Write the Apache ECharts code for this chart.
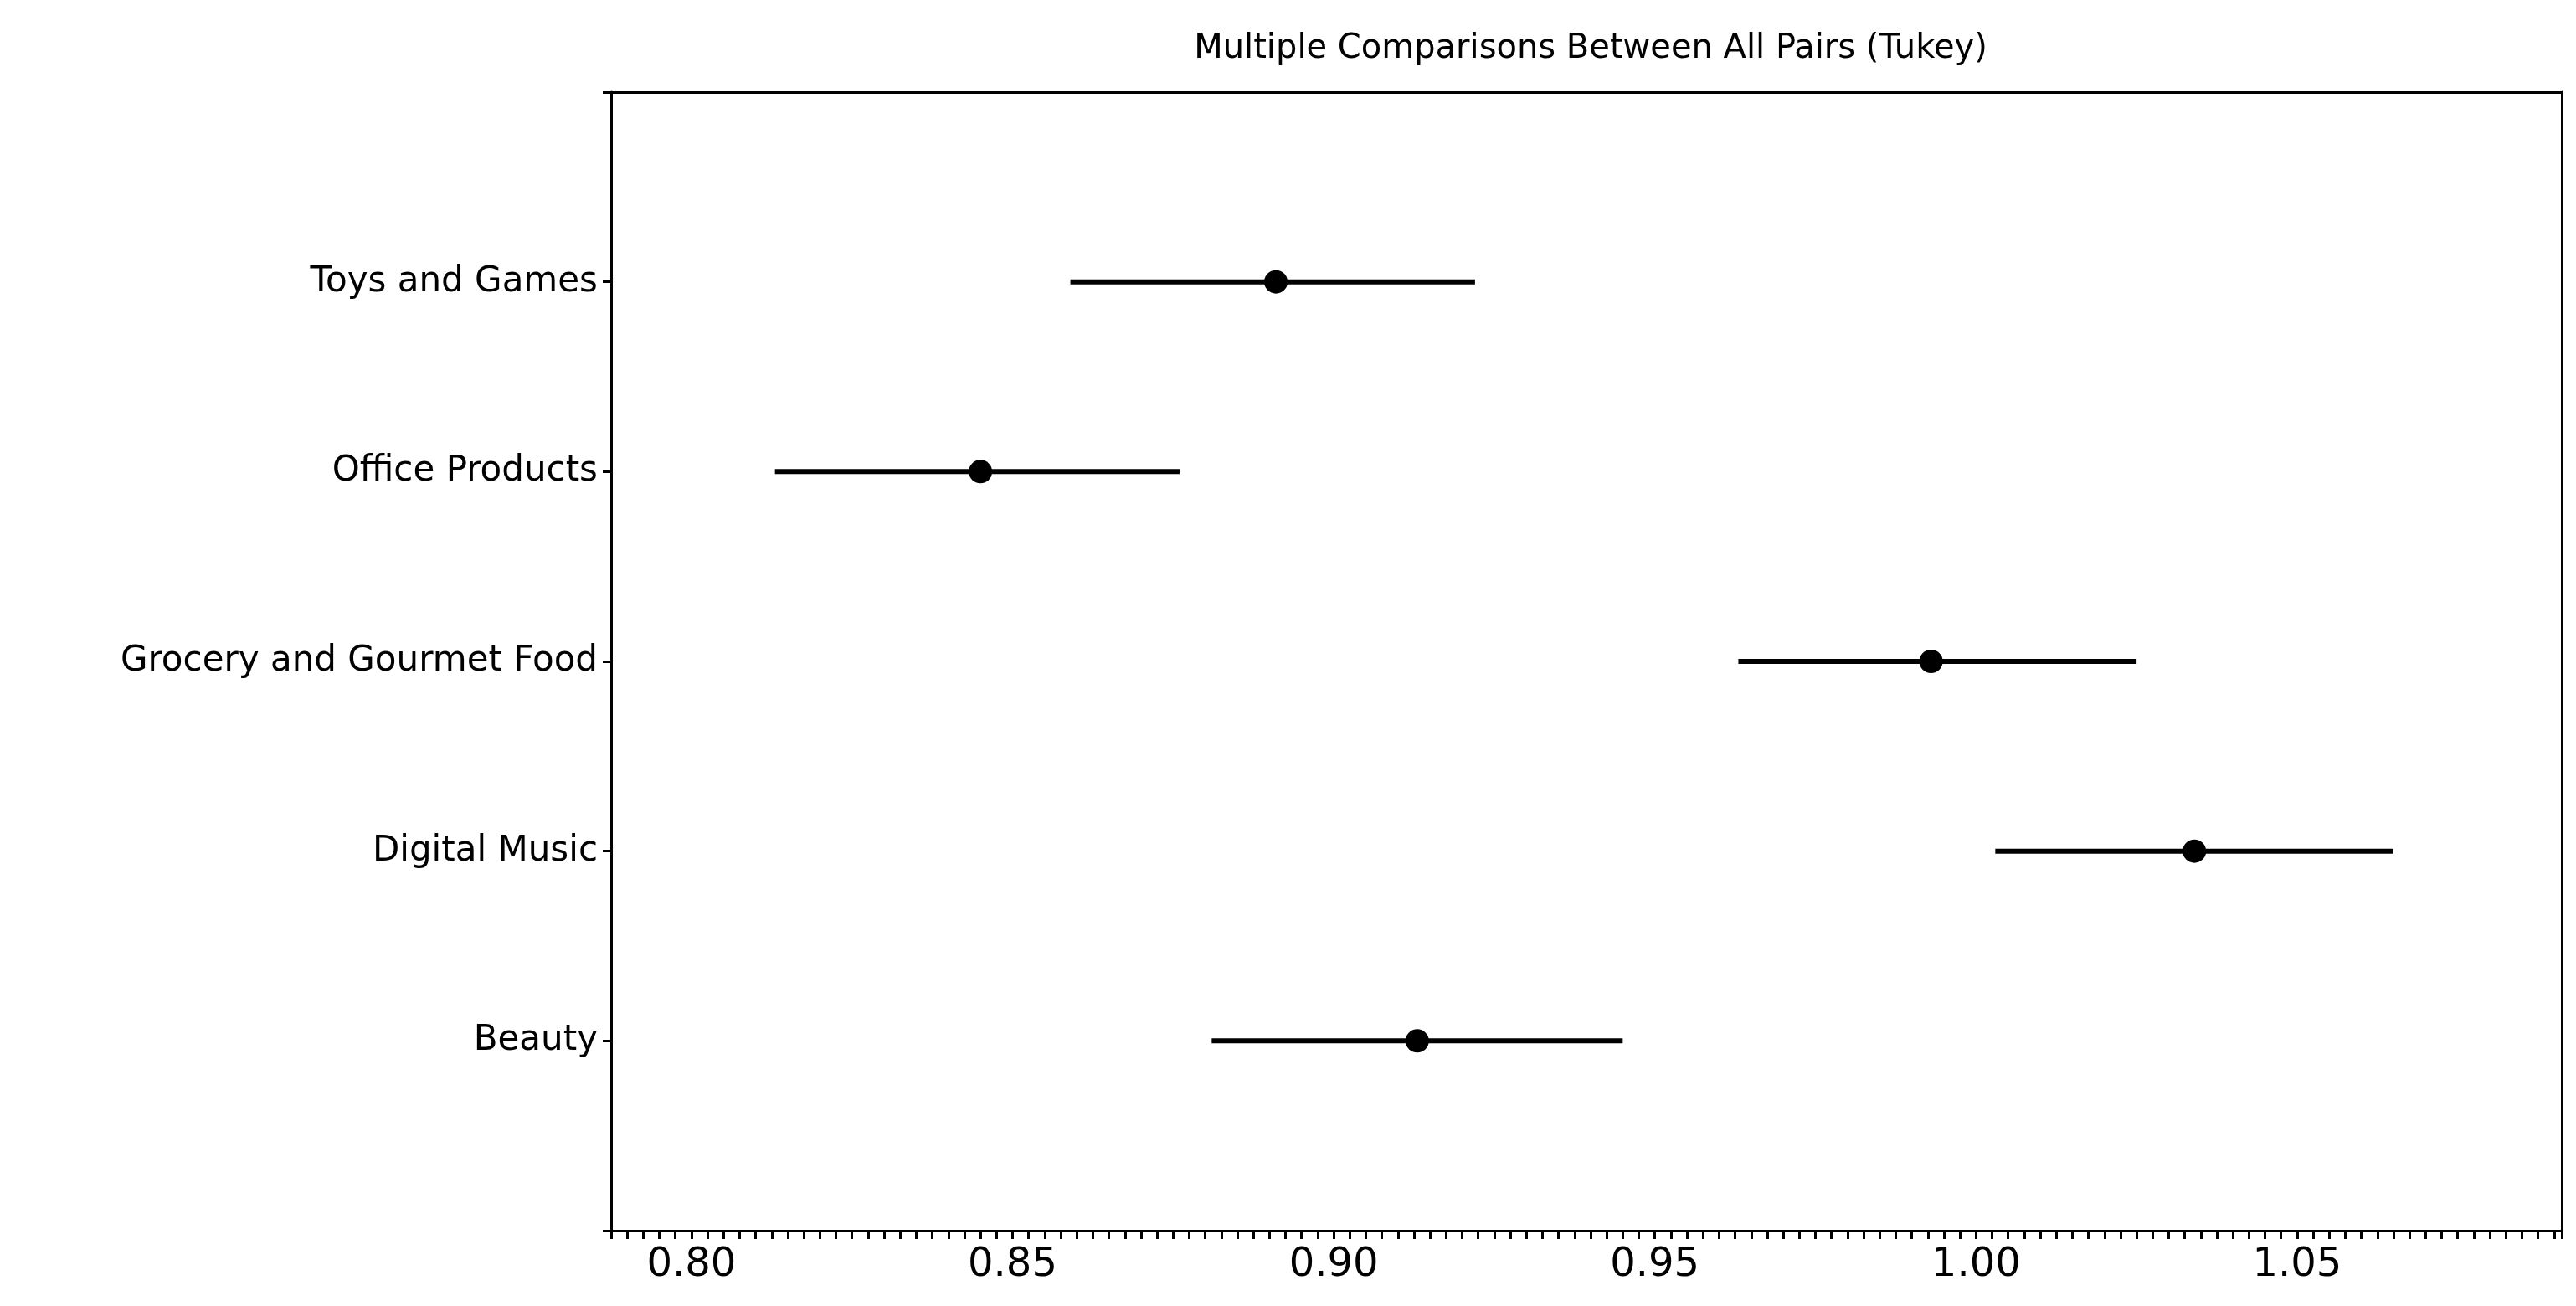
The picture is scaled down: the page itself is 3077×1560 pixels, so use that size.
<!DOCTYPE html>
<html>
<head>
<meta charset="utf-8">
<script src="https://cdn.jsdelivr.net/npm/echarts@6/dist/echarts.min.js"></script>
<style>html,body{margin:0;padding:0;background:#fff}#chart{width:3077px;height:1560px}</style>
</head>
<body>
<div id="chart"></div>
<script>
// groups, bottom to top
const groups = ["Beauty", "Digital Music", "Grocery and Gourmet Food", "Office Products", "Toys and Games"];
const means = [0.913, 1.034, 0.993, 0.845, 0.891];
const lower = [0.881, 1.003, 0.963, 0.813, 0.859];
const upper = [0.945, 1.065, 1.025, 0.876, 0.922];
const xTicks = [0.80, 0.85, 0.90, 0.95, 1.00, 1.05];

const font = "DejaVu Sans";
const isMajor = v => xTicks.some(t => Math.abs(t - v) < 1e-6);
const chart = echarts.init(document.getElementById("chart"));

chart.setOption({
  animation: false,
  title: {
    text: "Multiple Comparisons Between All Pairs (Tukey)",
    left: 1895, top: 34, textAlign: "center",
    textStyle: { fontFamily: font, fontSize: 40, fontWeight: "normal", color: "#000" }
  },
  grid: { left: 730, right: 17, top: 110, bottom: 90 },
  xAxis: [{
    type: "value", min: 0.7875, max: 1.0912, interval: 0.0025,
    axisLine: { show: true, onZero: false, lineStyle: { color: "#000", width: 3 } },
    axisTick: { show: true, length: 10, interval: (i, v) => isMajor(+v), lineStyle: { color: "#000", width: 3 } },
    axisLabel: {
      fontFamily: font, fontSize: 48, color: "#000", margin: 18,
      interval: (i, v) => isMajor(+v),
      formatter: v => isMajor(v) ? v.toFixed(2) : ""
    },
    splitLine: { show: false }
  }, {
    type: "value", position: "top", min: 0.7875, max: 1.0912,
    axisLine: { show: true, onZero: false, lineStyle: { color: "#000", width: 3 } },
    axisTick: { show: false }, axisLabel: { show: false }, splitLine: { show: false }
  }],
  yAxis: [{
    type: "value", min: -1, max: 5, interval: 1,
    axisLine: { show: true, onZero: false, lineStyle: { color: "#000", width: 3 } },
    axisTick: { show: true, length: 10, interval: (i, v) => +v >= 0 && +v <= 4, lineStyle: { color: "#000", width: 3 } },
    axisLabel: {
      fontFamily: font, fontSize: 42, color: "#000", margin: 16,
      formatter: v => groups[v] || ""
    },
    splitLine: { show: false }
  }, {
    type: "value", position: "right", min: -1, max: 5,
    axisLine: { show: true, onZero: false, lineStyle: { color: "#000", width: 3 } },
    axisTick: { show: false }, axisLabel: { show: false }, splitLine: { show: false }
  }],
  series: [{
    type: "custom",
    data: groups.map((g, i) => [lower[i], upper[i], i]),
    renderItem: (params, api) => {
      const a = api.coord([api.value(0), api.value(2)]);
      const b = api.coord([api.value(1), api.value(2)]);
      return {
        type: "line",
        shape: { x1: a[0], y1: a[1], x2: b[0], y2: b[1] },
        style: { stroke: "#000", lineWidth: 6 }
      };
    },
    z: 2
  }, {
    type: "scatter",
    data: groups.map((g, i) => [means[i], i]),
    symbolSize: 28,
    itemStyle: { color: "#000", opacity: 1 },
    z: 3
  }]
});
</script>
</body>
</html>
